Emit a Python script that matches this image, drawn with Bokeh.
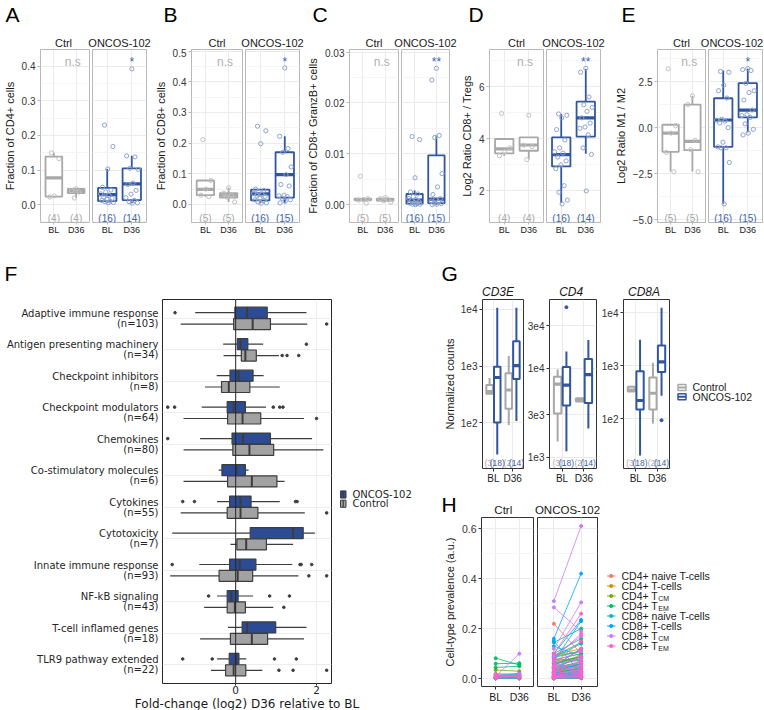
import numpy as np
from bokeh.plotting import figure
from bokeh.layouts import row, column
from bokeh.models import Range1d, FixedTicker, Grid, Span
from bokeh.embed import file_html
from bokeh.resources import INLINE
from bokeh.core.properties import value

# ====================== DATA ======================
TIMEPOINTS = ["BL", "D36"]
GROUPS = ["Ctrl", "ONCOS-102"]
PANEL_LETTERS = ["A", "B", "C", "D", "E"]
Y_TITLES = ["Fraction of CD4+ cells", "Fraction of CD8+ cells", "Fraction of CD8+ GranzB+ cells",
            "Log2 Ratio CD8+ / Tregs", "Log2 Ratio M1 / M2"]
Y_TICKS = [[0, 0.1, 0.2, 0.3, 0.4], [0, 0.1, 0.2, 0.3, 0.4, 0.5], [0, 0.01, 0.02, 0.03], [2, 4, 6],
           [-5, -2.5, 0, 2.5]]
Y_TICK_LABELS = [["0.0", "0.1", "0.2", "0.3", "0.4"], ["0.0", "0.1", "0.2", "0.3", "0.4", "0.5"],
                 ["0.00", "0.01", "0.02", "0.03"], ["2", "4", "6"], ["\u22125.0", "\u22122.5", "0.0", "2.5"]]
Y_MINOR = [[-0.05, 0.05, 0.15, 0.25, 0.35], [-0.05, 0.05, 0.15, 0.25, 0.35, 0.45], [0.005, 0.015, 0.025],
           [1, 3, 5, 7], [-3.75, -1.25, 1.25, 3.75]]
Y_LIMITS = [(-0.052, 0.449), (-0.059, 0.505), (-0.0035, 0.0305), (0.79, 7.42), (-5.16, 4.24)]
SIG_CTRL = ["n.s", "n.s", "n.s", "n.s", "n.s"]
SIG_ONC = ["*", "*", "**", "**", "*"]

# A: fraction of CD4+ cells
A_ctrl_BL = [0.150, 0.133, 0.025, 0.022]
A_ctrl_D36 = [0.046, 0.040, 0.036, 0.019]
A_onc_BL = [0.230, 0.168, 0.103, 0.050, 0.042, 0.036, 0.031, 0.027, 0.022, 0.018, 0.015, 0.012, 0.010, 0.008, 0.006, 0.005]
A_onc_D36 = [0.393, 0.141, 0.138, 0.105, 0.102, 0.062, 0.058, 0.041, 0.030, 0.020, 0.012, 0.008, 0.005, 0.004]
# box stats: [lower whisker, Q1, median, Q3, upper whisker]
A_box_ctrl_BL = [0.022, 0.023, 0.077, 0.139, 0.150]
A_box_ctrl_D36 = [0.019, 0.033, 0.039, 0.045, 0.046]
A_box_onc_BL = [0.005, 0.010, 0.029, 0.048, 0.103]
A_box_onc_D36 = [0.004, 0.013, 0.060, 0.105, 0.141]

# B: fraction of CD8+ cells
B_ctrl_BL = [0.211, 0.078, 0.050, 0.030, 0.025]
B_ctrl_D36 = [0.054, 0.037, 0.030, 0.024, 0.008]
B_onc_BL = [0.255, 0.240, 0.198, 0.050, 0.046, 0.041, 0.036, 0.033, 0.030, 0.026, 0.020, 0.015, 0.012, 0.008, 0.005, 0.004]
B_onc_D36 = [0.445, 0.222, 0.182, 0.170, 0.122, 0.097, 0.065, 0.060, 0.030, 0.028, 0.025, 0.020, 0.015, 0.010, 0.005]
B_box_ctrl_BL = [0.025, 0.030, 0.049, 0.078, 0.078]
B_box_ctrl_D36 = [0.008, 0.022, 0.030, 0.037, 0.054]
B_box_onc_BL = [0.004, 0.013, 0.034, 0.048, 0.050]
B_box_onc_D36 = [0.005, 0.022, 0.097, 0.170, 0.222]

# C: fraction of CD8+ GranzB+ cells
C_ctrl_BL = [0.0056, 0.0012, 0.0010, 0.0009, 0.0003]
C_ctrl_D36 = [0.0014, 0.0012, 0.0010, 0.0008, 0.0005]
C_onc_BL = [0.0134, 0.0128, 0.0053, 0.0025, 0.0021, 0.0016, 0.0012, 0.0010, 0.0008, 0.0006, 0.0004, 0.0003, 0.0002, 0.0001, 0.0001, 0.0000]
C_onc_D36 = [0.0268, 0.0245, 0.0136, 0.0132, 0.0061, 0.0035, 0.0020, 0.0012, 0.0010, 0.0007, 0.0005, 0.0003, 0.0002, 0.0001, 0.0000]
C_box_ctrl_BL = [0.0009, 0.0009, 0.0010, 0.0012, 0.0012]
C_box_ctrl_D36 = [0.0005, 0.0008, 0.0010, 0.0012, 0.0014]
C_box_onc_BL = [0.0000, 0.0002, 0.0009, 0.0021, 0.0028]
C_box_onc_D36 = [0.0000, 0.0003, 0.0011, 0.0097, 0.0136]

# D: log2 ratio CD8+/Tregs
D_ctrl_BL = [4.97, 3.65, 3.50, 3.35]
D_ctrl_D36 = [4.90, 3.75, 3.70, 3.20]
D_onc_BL = [4.95, 4.90, 4.80, 4.35, 3.95, 3.65, 3.50, 3.45, 3.30, 3.15, 3.00, 2.85, 2.20, 1.95, 1.65, 1.50]
D_onc_D36 = [6.70, 6.55, 5.60, 5.30, 5.20, 5.05, 4.80, 4.60, 4.45, 4.40, 4.15, 3.65, 3.40, 2.00]
D_box_ctrl_BL = [3.35, 3.44, 3.61, 3.99, 3.99]
D_box_ctrl_D36 = [3.20, 3.54, 3.76, 4.05, 4.05]
D_box_onc_BL = [1.54, 2.94, 3.39, 4.05, 4.95]
D_box_onc_D36 = [3.42, 4.08, 4.80, 5.42, 6.67]

# E: log2 ratio M1/M2
E_ctrl_BL = [3.19, 0.10, -0.30, -1.35, -2.40]
E_ctrl_D36 = [1.72, 1.25, -0.70, -1.20, -2.40]
E_onc_BL = [3.05, 3.00, 2.30, 2.00, 1.60, 0.45, 0.40, 0.35, 0.25, 0.00, -0.80, -1.05, -1.10, -1.10, -1.90, -4.15]
E_onc_D36 = [3.20, 3.15, 3.10, 2.40, 2.00, 1.90, 1.50, 0.95, 0.70, 0.65, 0.55, 0.20, -0.10, -0.30, -0.40]
E_box_ctrl_BL = [-2.39, -1.32, -0.30, 0.15, 0.15]
E_box_ctrl_D36 = [-2.39, -1.23, -0.75, 1.25, 1.72]
E_box_onc_BL = [-4.14, -1.05, 0.41, 1.59, 3.10]
E_box_onc_D36 = [-0.26, 0.55, 0.95, 2.41, 3.19]

# F: fold-change per gene set, box stats [lower whisker, Q1, median, Q3, upper whisker]
F_CATEGORIES = ["Adaptive immune response", "Antigen presenting machinery", "Checkpoint inhibitors",
                "Checkpoint modulators", "Chemokines", "Co-stimulatory molecules", "Cytokines",
                "Cytotoxicity", "Innate immune response", "NF-kB signaling", "T-cell inflamed genes",
                "TLR9 pathway extended"]
F_N = [103, 34, 8, 64, 80, 6, 55, 7, 93, 43, 18, 22]
F_ONC_BOX = [[-1.00, -0.02, 0.28, 0.78, 1.75], [-0.31, 0.04, 0.12, 0.30, 0.68], [-0.47, -0.14, 0.07, 0.43, 0.69],
             [-0.84, -0.21, -0.05, 0.24, 0.75], [-0.88, -0.09, 0.18, 0.86, 1.89], [-0.42, -0.34, 0.02, 0.24, 0.32],
             [-0.46, -0.15, 0.12, 0.38, 1.09], [-1.57, 0.36, 1.42, 1.67, 1.96], [-0.90, -0.15, 0.10, 0.50, 1.40],
             [-0.46, -0.21, -0.11, 0.06, 0.43], [-0.19, 0.16, 0.28, 0.99, 1.75], [-0.46, -0.16, 0.00, 0.08, 0.26]]
F_ONC_OUT = [[-1.50], [1.75], [], [-1.68, -1.51, 0.93, 1.09, 1.17], [-1.68], [], [-1.31, -1.02, 1.48, 1.52], [],
             [-1.57, 1.59, 1.62, 1.88], [-0.67, 0.84, 1.33], [], [-1.31, -0.58, 0.96, 1.50]]
F_CTL_BOX = [[-1.36, -0.05, 0.42, 0.86, 1.77], [-0.30, 0.14, 0.24, 0.51, 1.07], [-0.76, -0.35, -0.17, 0.35, 1.09],
             [-1.29, -0.20, 0.17, 0.62, 1.69], [-1.29, -0.07, 0.34, 0.94, 2.17], [-1.29, -0.20, 0.40, 1.02, 1.21],
             [-1.36, -0.21, 0.12, 0.55, 1.71], [-0.13, 0.03, 0.26, 0.76, 1.42], [-1.62, -0.41, 0.05, 0.42, 1.55],
             [-0.78, -0.21, -0.02, 0.24, 0.93], [-0.88, -0.13, 0.40, 0.79, 1.69], [-0.61, -0.25, -0.05, 0.25, 0.66]]
F_CTL_OUT = [[2.25], [1.15, 1.27, 1.56], [], [2.00], [], [], [2.25], [], [1.81, 2.25], [1.19], [], [1.07, 1.42, 2.25]]
F_LEGEND = ["ONCOS-102", "Control"]
F_XTITLE = "Fold-change (log2) D36 relative to BL"

# G: normalized counts, box stats [lower whisker, Q1, median, Q3, upper whisker]
G_GENES = ["CD3E", "CD4", "CD8A"]
G_CTRL_BL = [[325, 325, 357, 466, 615], [1500, 3090, 6600, 8020, 9670], [325, 325, 345, 400, 420]]
G_ONC_BL = [[28, 102, 630, 975, 10600], [1165, 3800, 6450, 10300, 15400], [20, 149, 220, 790, 3100]]
G_CTRL_D36 = [[92, 178, 380, 750, 1500], [4220, 4220, 4400, 4580, 4580], [81, 149, 302, 597, 1140]]
G_ONC_D36 = [[108, 590, 1020, 2720, 10600], [2100, 4070, 8440, 12700, 20700], [272, 762, 1190, 2430, 12600]]
G_ONC_BL_OUT = [[], [48300], []]
G_ONC_D36_OUT = [[], [], [93]]
G_N_CTRL = ["(3)", "(2)"]
G_N_ONC = ["(18)", "(14)"]
G_LOG_LIMITS = [(1.20, 4.17), (2.874, 4.77), (1.055, 4.255)]
G_TICKS = [[100, 1000, 10000], [1000, 3000, 10000, 30000], [100, 1000, 10000]]
G_TICK_LABELS = [["1e2", "1e3", "1e4"], ["1e3", "3e3", "1e4", "3e4"], ["1e2", "1e3", "1e4"]]
G_LEGEND = ["Control", "ONCOS-102"]

# H: cell-type prevalence per patient (BL -> D36)
H_TYPES = ["CD4+ naive T-cells", "CD4+ T-cells", "CD4+ T_CM", "CD4+ T_EM",
           "CD8+ naive T-cells", "CD8+ T-cells", "CD8+ T_CM", "CD8+ T_EM"]
H_LEGEND_MAIN = ["CD4+ naive T-cells", "CD4+ T-cells", "CD4+ T", "CD4+ T",
                 "CD8+ naive T-cells", "CD8+ T-cells", "CD8+ T", "CD8+ T"]
H_LEGEND_SUB = ["", "", "CM", "EM", "", "", "CM", "EM"]
H_ctrl_BL = [[0.002, 0.004, 0.001], [0.010, 0.006, 0.004], [0.035, 0.020, 0.012], [0.082, 0.060, 0.045],
             [0.003, 0.002, 0.001], [0.012, 0.005, 0.003], [0.010, 0.018, 0.004], [0.015, 0.008, 0.003]]
H_ctrl_D36 = [[0.003, 0.002, 0.001], [0.008, 0.012, 0.005], [0.030, 0.015, 0.010], [0.055, 0.062, 0.050],
              [0.002, 0.004, 0.001], [0.022, 0.018, 0.006], [0.100, 0.020, 0.012], [0.010, 0.012, 0.004]]
H_onc_BL = [
    [0.220, 0.060, 0.040, 0.025, 0.015, 0.010, 0.008, 0.005, 0.004, 0.003, 0.002, 0.001],
    [0.095, 0.070, 0.055, 0.045, 0.035, 0.030, 0.022, 0.018, 0.012, 0.010, 0.006, 0.004],
    [0.090, 0.080, 0.065, 0.050, 0.040, 0.032, 0.025, 0.020, 0.015, 0.010, 0.006, 0.003],
    [0.145, 0.100, 0.090, 0.085, 0.075, 0.060, 0.050, 0.040, 0.030, 0.020, 0.012, 0.008],
    [0.130, 0.085, 0.060, 0.045, 0.035, 0.025, 0.018, 0.012, 0.008, 0.005, 0.003, 0.001],
    [0.160, 0.150, 0.100, 0.070, 0.050, 0.040, 0.030, 0.020, 0.015, 0.010, 0.005, 0.002],
    [0.310, 0.285, 0.120, 0.090, 0.070, 0.050, 0.040, 0.030, 0.020, 0.012, 0.008, 0.004],
    [0.100, 0.080, 0.060, 0.050, 0.040, 0.030, 0.025, 0.018, 0.012, 0.008, 0.005, 0.002]]
H_onc_D36 = [
    [0.100, 0.080, 0.030, 0.045, 0.020, 0.015, 0.012, 0.006, 0.010, 0.004, 0.003, 0.002],
    [0.120, 0.085, 0.095, 0.060, 0.050, 0.040, 0.035, 0.028, 0.020, 0.015, 0.010, 0.006],
    [0.110, 0.070, 0.085, 0.060, 0.055, 0.030, 0.040, 0.025, 0.018, 0.012, 0.008, 0.004],
    [0.200, 0.160, 0.145, 0.110, 0.100, 0.090, 0.080, 0.070, 0.050, 0.040, 0.025, 0.015],
    [0.090, 0.140, 0.075, 0.050, 0.060, 0.030, 0.025, 0.015, 0.010, 0.006, 0.004, 0.002],
    [0.420, 0.020, 0.235, 0.230, 0.120, 0.090, 0.060, 0.045, 0.030, 0.020, 0.012, 0.005],
    [0.610, 0.190, 0.305, 0.170, 0.110, 0.080, 0.065, 0.050, 0.035, 0.025, 0.015, 0.008],
    [0.260, 0.180, 0.150, 0.120, 0.090, 0.070, 0.055, 0.040, 0.030, 0.018, 0.010, 0.004]]
H_TICKS = [0, 0.2, 0.4, 0.6]
H_TICK_LABELS = ["0.0", "0.2", "0.4", "0.6"]

# ====================== STYLE / LAYOUT ======================
def hx(v):
    return int(round(v))


def vy(v):
    return int(round(v))


SANS = "Liberation Sans"
DJV = "DejaVu Sans"
CTRL_BOX = "#A8A8A8"
CTRL_PT = "#C2C2C2"
CTRL_TXT = "#A8A8A8"
ONC_BOX = "#3056A0"
ONC_PT = "#8EA3CC"
ONC_TXT = "#3D63AC"
F_ONC = "#2B4B95"
F_CTL = "#A2A2A2"
F_EDGE = "#3D3D3D"
H_COLORS = ["#F8766D", "#CD9600", "#7CAE00", "#00BE67", "#00BFC4", "#00A9FF", "#C77CFF", "#FF61CC"]


def make_fig(x0, x1, fl, fr, y0, y1, ft, fb, xr, yr, log=False, yaxis=True, xaxis=True):
    kw = dict(width=hx(x1) - hx(x0), height=vy(y1) - vy(y0), output_backend="svg", toolbar_location=None,
              min_border_left=hx(fl) - hx(x0), min_border_right=hx(x1) - hx(fr),
              min_border_top=vy(ft) - vy(y0), min_border_bottom=vy(y1) - vy(fb),
              x_range=xr, y_range=yr, title=None)
    if log:
        kw["y_axis_type"] = "log"
    if not yaxis:
        kw["y_axis_location"] = None
    if not xaxis:
        kw["x_axis_location"] = None
    p = figure(**kw)
    p.grid.visible = False
    p.background_fill_color = "white"
    p.border_fill_color = "white"
    return p


def blank_fig(x0, x1, y0, y1, fl=None, fr=None, ft=None, fb=None):
    fl = x0 if fl is None else fl
    fr = x1 if fr is None else fr
    ft = y0 if ft is None else ft
    fb = y1 if fb is None else fb
    p = figure(width=hx(x1) - hx(x0), height=vy(y1) - vy(y0),
               x_range=Range1d(hx(fl), hx(fr)), y_range=Range1d(vy(fb), vy(ft)),
               output_backend="svg", toolbar_location=None, title=None,
               min_border_left=hx(fl) - hx(x0), min_border_right=hx(x1) - hx(fr),
               min_border_top=vy(ft) - vy(y0), min_border_bottom=vy(y1) - vy(fb),
               x_axis_location=None, y_axis_location=None)
    p.grid.visible = False
    p.outline_line_color = None
    p.background_fill_color = "white"
    p.border_fill_color = "white"
    return p


def add_grid(p, dim, ticks, minor=None, color="#EBEBEB", minor_color="#F5F5F5"):
    g = Grid(dimension=dim, ticker=FixedTicker(ticks=ticks, minor_ticks=minor or []),
             grid_line_color=color, grid_line_width=1,
             minor_grid_line_color=(minor_color if minor else None))
    p.add_layout(g)


def style_axis(ax, ticks, labels, font, size, color, tick_color, tick_out=3, standoff=2):
    ax.ticker = FixedTicker(ticks=ticks)
    ax.major_label_overrides = dict(zip(ticks, labels))
    ax.axis_line_color = None
    ax.major_tick_in = 0
    ax.major_tick_out = tick_out
    ax.major_tick_line_color = tick_color
    ax.minor_tick_line_color = None
    ax.major_label_text_font = font
    ax.major_label_text_font_size = size
    ax.major_label_text_color = color
    ax.major_label_standoff = standoff


def axis_title(ax, text, font=SANS, size="11px", standoff=3):
    ax.axis_label = text
    ax.axis_label_text_font = font
    ax.axis_label_text_font_size = size
    ax.axis_label_text_font_style = "normal"
    ax.axis_label_text_color = "#1A1A1A"
    ax.axis_label_standoff = standoff


def put_text(p, xs, ys, texts, size, color="#000000", font=SANS, align="left", baseline="middle",
             style="normal"):
    p.text(x=xs, y=ys, text=texts, text_font=value(font), text_font_size=value(size), text_color=color,
           text_align=align, text_baseline=baseline, text_font_style=style)


def draw_box(p, x, st, color, width, lw, med_lw, fill="white"):
    lo, q1, med, q3, hi = st
    p.segment(x0=[x, x], y0=[lo, q3], x1=[x, x], y1=[q1, hi], line_color=color, line_width=lw)
    r = p.vbar(x=[x], width=width, bottom=[q1], top=[q3], fill_color=fill, line_color=color, line_width=lw)
    p.segment(x0=[x - width / 2], y0=[med], x1=[x + width / 2], y1=[med], line_color=color, line_width=med_lw)
    return r


def jitter(n, spread=0.5, phase=0.3):
    return (((np.arange(n) * 0.6180339887 + phase) % 1.0) - 0.5) * spread


# ====================== TOP ROW: A–E ======================
PTS = [[(A_ctrl_BL, A_ctrl_D36), (A_onc_BL, A_onc_D36)],
       [(B_ctrl_BL, B_ctrl_D36), (B_onc_BL, B_onc_D36)],
       [(C_ctrl_BL, C_ctrl_D36), (C_onc_BL, C_onc_D36)],
       [(D_ctrl_BL, D_ctrl_D36), (D_onc_BL, D_onc_D36)],
       [(E_ctrl_BL, E_ctrl_D36), (E_onc_BL, E_onc_D36)]]
BOX = [[(A_box_ctrl_BL, A_box_ctrl_D36), (A_box_onc_BL, A_box_onc_D36)],
       [(B_box_ctrl_BL, B_box_ctrl_D36), (B_box_onc_BL, B_box_onc_D36)],
       [(C_box_ctrl_BL, C_box_ctrl_D36), (C_box_onc_BL, C_box_onc_D36)],
       [(D_box_ctrl_BL, D_box_ctrl_D36), (D_box_onc_BL, D_box_onc_D36)],
       [(E_box_ctrl_BL, E_box_ctrl_D36), (E_box_onc_BL, E_box_onc_D36)]]

CTRL_FR = [(37, 89), (191, 242), (349, 398), (489, 543), (657, 705)]
ONC_FR = [(92, 146), (245, 299), (401, 449), (546, 600), (708, 762)]
LETTER_X = [5, 163, 312, 468, 621]
TOP_Y0, TOP_Y1, TOP_FT, TOP_FB = 48, 255, 49, 222

top_figs = []
x_cursor = 0
for k in range(5):
    cl, cr = CTRL_FR[k]
    ol, orr = ONC_FR[k]
    split = (cr + ol) / 2
    end = min(orr + 1.5, 764)
    lo_lim, hi_lim = Y_LIMITS[k]
    span = hi_lim - lo_lim
    for g in range(2):
        if g == 0:
            p = make_fig(x_cursor, split, cl, cr, TOP_Y0, TOP_Y1, TOP_FT, TOP_FB,
                         Range1d(0.4, 2.6), Range1d(lo_lim, hi_lim))
        else:
            p = make_fig(split, end, ol, orr, TOP_Y0, TOP_Y1, TOP_FT, TOP_FB,
                         Range1d(0.4, 2.6), Range1d(lo_lim, hi_lim), yaxis=False)
        p.outline_line_color = "#B8B8B8"
        add_grid(p, 0, [1, 2])
        add_grid(p, 1, Y_TICKS[k], Y_MINOR[k])
        style_axis(p.xaxis[0], [1, 2], TIMEPOINTS, SANS, "9px", "#1A1A1A", "#B8B8B8", tick_out=2, standoff=0)
        if g == 0:
            style_axis(p.yaxis[0], Y_TICKS[k], Y_TICK_LABELS[k], SANS, "10px", "#333333", "#B8B8B8")
            axis_title(p.yaxis[0], Y_TITLES[k])
        bcol = CTRL_BOX if g == 0 else ONC_BOX
        pcol = CTRL_PT if g == 0 else ONC_PT
        tcol = CTRL_TXT if g == 0 else ONC_TXT
        for t in range(2):
            draw_box(p, t + 1, BOX[k][g][t], bcol, 0.75, 1.8, 3.2)
        for t in range(2):
            vals = PTS[k][g][t]
            p.scatter(x=(t + 1) + jitter(len(vals), 0.55, 0.3 + 0.2 * t), y=vals, marker="circle", size=4.2,
                      fill_color=None, line_color=pcol, line_width=1)
        yn = lo_lim + 0.025 * span
        put_text(p, [1, 2], [yn, yn], ["(%d)" % len(PTS[k][g][0]), "(%d)" % len(PTS[k][g][1])], "10px",
                 color=tcol, align="center")
        ys = hi_lim - 0.07 * span
        if g == 0:
            put_text(p, [1.85], [ys], [SIG_CTRL[k]], "12px", color="#B0B0B0", align="center")
        else:
            put_text(p, [2], [ys], [SIG_ONC[k]], "12px", color=ONC_TXT, align="center")
        top_figs.append(p)
    x_cursor = end

top_header = blank_fig(0, 764, 0, TOP_Y0)
put_text(top_header, LETTER_X, [14] * 5, PANEL_LETTERS, "21px")
strip_x = []
strip_t = []
for k in range(5):
    strip_x += [(CTRL_FR[k][0] + CTRL_FR[k][1]) / 2, min((ONC_FR[k][0] + ONC_FR[k][1]) / 2, 731.5)]
    strip_t += GROUPS
put_text(top_header, strip_x, [42.5] * 10, strip_t, "11px", color="#1A1A1A", align="center")

# ====================== F ======================
F_Y0, F_Y1, F_FT, F_FB = 298, 696, 299.3, 685
F_X1 = 336
pF = make_fig(0, F_X1, 162.3, 330.7, F_Y0, F_Y1, F_FT, F_FB, Range1d(-1.81, 2.37), Range1d(11.6, -0.6))
pF.outline_line_color = "#262626"
add_grid(pF, 0, [0, 2], color="#EDEDED")
add_grid(pF, 1, list(range(len(F_CATEGORIES))), color="#EDEDED")
f_ticks = []
f_labels = []
for i, (c, n) in enumerate(zip(F_CATEGORIES, F_N)):
    f_ticks += [i - 0.158, i + 0.158]
    f_labels += [c, "(n=%d)" % n]
style_axis(pF.yaxis[0], f_ticks, f_labels, DJV, "10px", "#262626", None, tick_out=0, standoff=4)
style_axis(pF.xaxis[0], [0, 2], ["0", "2"], DJV, "10.5px", "#262626", "#262626", tick_out=2, standoff=0)
pF.add_layout(Span(location=0, dimension="height", line_color="#262626", line_width=1))

for boxes, outs, off, fill in ((F_ONC_BOX, F_ONC_OUT, -0.18, F_ONC), (F_CTL_BOX, F_CTL_OUT, 0.18, F_CTL)):
    ys = [i + off for i in range(len(boxes))]
    lo = [b[0] for b in boxes]
    q1 = [b[1] for b in boxes]
    med = [b[2] for b in boxes]
    q3 = [b[3] for b in boxes]
    hi = [b[4] for b in boxes]
    pF.segment(x0=lo, y0=ys, x1=q1, y1=ys, line_color=F_EDGE, line_width=1.2)
    pF.segment(x0=q3, y0=ys, x1=hi, y1=ys, line_color=F_EDGE, line_width=1.2)
    pF.hbar(y=ys, left=q1, right=q3, height=0.35, fill_color=fill, line_color=F_EDGE, line_width=1.2)
    pF.segment(x0=med, y0=[y - 0.175 for y in ys], x1=med, y1=[y + 0.175 for y in ys], line_color=F_EDGE,
               line_width=2)
    ox, oy = [], []
    for i, o in enumerate(outs):
        ox += o
        oy += [i + off] * len(o)
    pF.scatter(x=ox, y=oy, marker="circle", size=2.6, fill_color=F_EDGE, line_color=F_EDGE)

# F legend (drawn beside the panel)
FL = blank_fig(F_X1, 440, F_Y0, F_Y1, ft=F_FT, fb=F_FB)
for i, (lab, fill) in enumerate(zip(F_LEGEND, [F_ONC, F_CTL])):
    yc = 495 + 9.3 * i
    FL.quad(left=[340], right=[345.5], top=[yc - 3.6], bottom=[yc + 3.6], fill_color=fill, line_color=F_EDGE,
            line_width=1)
    FL.segment(x0=[342.7], y0=[yc - 3.6], x1=[342.7], y1=[yc + 3.6], line_color=F_EDGE, line_width=1.2)
    put_text(FL, [352], [yc], [lab], "10px", color="#262626", font=DJV)

# F x-axis title (below the panel, full width so it is not cut)
F_footer = blank_fig(0, 440, F_Y1, 710)
put_text(F_footer, [(162.3 + 330.7) / 2], [703.3], [F_XTITLE], "12px", color="#1A1A1A", font=DJV,
         align="center")

# ====================== G ======================
G_FR = [(472.3, 522.7), (545.3, 596.0), (618.3, 668.7)]
G_SPLITS = [440, 524, 597.5, 672]
G_Y0, G_Y1, G_FT, G_FB = 298, 486, 299, 470.7
g_figs = []
for j in range(3):
    lo_l, hi_l = G_LOG_LIMITS[j]
    p = make_fig(G_SPLITS[j], G_SPLITS[j + 1], G_FR[j][0], G_FR[j][1], G_Y0, G_Y1, G_FT, G_FB,
                 Range1d(0.43, 2.57), Range1d(10 ** lo_l, 10 ** hi_l), log=True)
    p.outline_line_color = "#333333"
    add_grid(p, 0, [1, 2])
    add_grid(p, 1, G_TICKS[j])
    style_axis(p.xaxis[0], [1, 2], TIMEPOINTS, SANS, "10px", "#1A1A1A", "#333333", tick_out=3, standoff=1)
    style_axis(p.yaxis[0], G_TICKS[j], G_TICK_LABELS[j], SANS, "10px", "#333333", "#333333", tick_out=3,
               standoff=2)
    if j == 0:
        axis_title(p.yaxis[0], "Normalized counts", standoff=2)
    draw_box(p, 0.8, G_CTRL_BL[j], CTRL_BOX, 0.34, 2, 3.2)
    draw_box(p, 1.2, G_ONC_BL[j], ONC_BOX, 0.34, 2, 3.2)
    draw_box(p, 1.8, G_CTRL_D36[j], CTRL_BOX, 0.34, 2, 3.2)
    draw_box(p, 2.2, G_ONC_D36[j], ONC_BOX, 0.34, 2, 3.2)
    ox = [1.2] * len(G_ONC_BL_OUT[j]) + [2.2] * len(G_ONC_D36_OUT[j])
    oy = G_ONC_BL_OUT[j] + G_ONC_D36_OUT[j]
    if ox:
        p.scatter(x=ox, y=oy, marker="circle", size=3, fill_color=ONC_BOX, line_color=ONC_BOX)
    yn = 10 ** (lo_l + 0.035 * (hi_l - lo_l))
    put_text(p, [0.8, 1.8], [yn, yn], G_N_CTRL, "8.5px", color=CTRL_TXT, align="center")
    put_text(p, [1.2, 2.2], [yn, yn], G_N_ONC, "8.5px", color=ONC_TXT, align="center")
    g_figs.append(p)

GL = blank_fig(672, 764, G_Y0, G_Y1, ft=G_FT, fb=G_FB)
for i, (lab, col) in enumerate(zip(G_LEGEND, [CTRL_BOX, ONC_BOX])):
    yc = 388.5 + 9.5 * i
    GL.quad(left=[677.5], right=[685.5], top=[yc - 3], bottom=[yc + 3], fill_color="white", line_color=col,
            line_width=1.5)
    GL.segment(x0=[677.5], y0=[yc], x1=[685.5], y1=[yc], line_color=col, line_width=2)
    put_text(GL, [692], [yc], [lab], "10.5px", color="#1A1A1A")

mid_header = blank_fig(0, 764, 255, 298)
put_text(mid_header, [4, 441], [273, 273], ["F", "G"], "21px")
put_text(mid_header, [(a + b) / 2 for a, b in G_FR], [291.5] * 3, G_GENES, "12px", color="#1A1A1A",
         align="center", style="italic")

# ====================== H ======================
H_FR = [(472.3, 533.3), (536.7, 597.3)]
H_SPLITS = [440, 535, 600]
H_Y0, H_Y1, H_FT, H_FB = 516, 710, 517.3, 686
h_figs = []
for g in range(2):
    p = make_fig(H_SPLITS[g], H_SPLITS[g + 1], H_FR[g][0], H_FR[g][1], H_Y0, H_Y1, H_FT, H_FB,
                 Range1d(0.4, 2.6), Range1d(-0.031, 0.644), yaxis=(g == 0))
    p.outline_line_color = "#333333"
    add_grid(p, 0, [1, 2])
    add_grid(p, 1, H_TICKS, [0.1, 0.3, 0.5])
    style_axis(p.xaxis[0], [1, 2], TIMEPOINTS, SANS, "10.5px", "#1A1A1A", "#333333", tick_out=3, standoff=1)
    if g == 0:
        style_axis(p.yaxis[0], H_TICKS, H_TICK_LABELS, SANS, "10.5px", "#333333", "#333333")
        axis_title(p.yaxis[0], "Cell-type prevalence (a.u.)")
    bl_all = H_ctrl_BL if g == 0 else H_onc_BL
    d36_all = H_ctrl_D36 if g == 0 else H_onc_D36
    for t in range(len(H_TYPES)):
        bl, d36 = bl_all[t], d36_all[t]
        p.multi_line(xs=[[1, 2]] * len(bl), ys=[[a, b] for a, b in zip(bl, d36)], line_color=H_COLORS[t],
                     line_width=0.9, line_alpha=0.9)
        p.scatter(x=[1] * len(bl) + [2] * len(d36), y=bl + d36, marker="circle", size=3,
                  fill_color=H_COLORS[t], line_color=H_COLORS[t])
    h_figs.append(p)

HL = blank_fig(600, 764, H_Y0, H_Y1, ft=H_FT, fb=H_FB)
for i in range(len(H_TYPES)):
    yc = 575.5 + 10 * i
    HL.segment(x0=[606.5], y0=[yc], x1=[615], y1=[yc], line_color=H_COLORS[i], line_width=1)
    HL.scatter(x=[610.7], y=[yc], marker="circle", size=3.2, fill_color=H_COLORS[i], line_color=H_COLORS[i])
    put_text(HL, [621], [yc], [H_LEGEND_MAIN[i]], "10.5px", color="#1A1A1A")
    if H_LEGEND_SUB[i]:
        put_text(HL, [621 + 36.8], [yc + 2.5], [H_LEGEND_SUB[i]], "7px", color="#1A1A1A")

h_header = blank_fig(440, 764, 486, H_Y0)
put_text(h_header, [441], [503.5], ["H"], "21px")
put_text(h_header, [(a + b) / 2 for a, b in H_FR], [509.5] * 2, GROUPS, "11.5px", color="#1A1A1A",
         align="center")

# ====================== ASSEMBLE ======================
left_col = column(row(pF, FL), F_footer)
right_col = column(row(*g_figs, GL), h_header, row(h_figs[0], h_figs[1], HL))
root = column(top_header, row(*top_figs), mid_header, row(left_col, right_col))

open("out.html", "w").write(file_html(root, INLINE))
